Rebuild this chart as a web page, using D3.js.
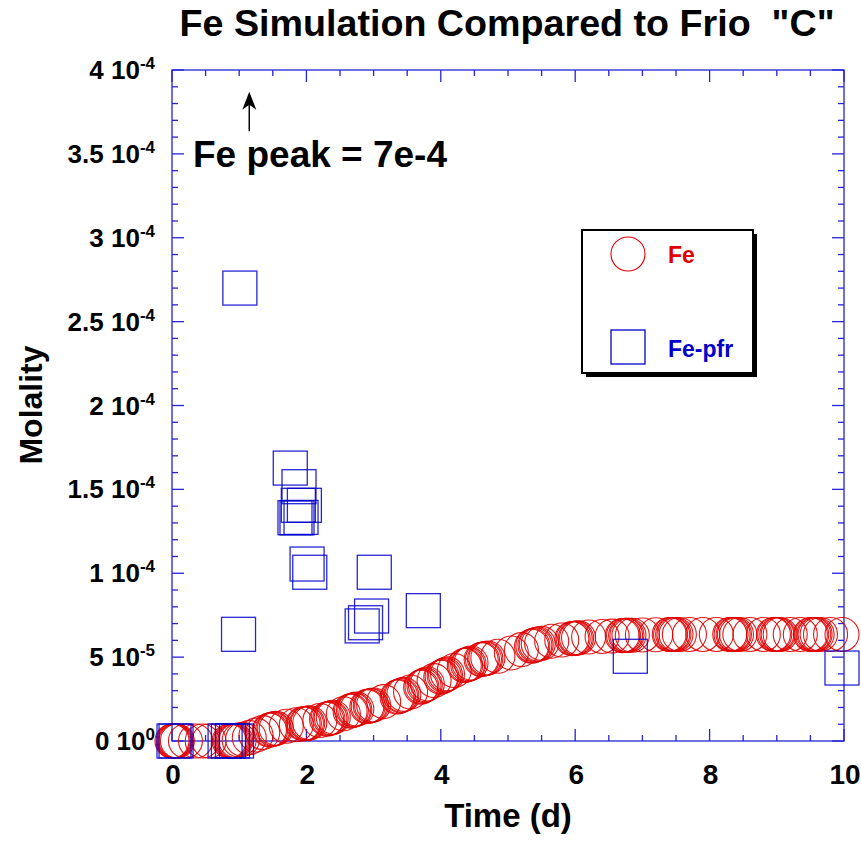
<!DOCTYPE html>
<html>
<head>
<meta charset="utf-8">
<script src="https://cdn.jsdelivr.net/npm/d3@7"></script>
<style>
  html, body { margin: 0; padding: 0; background: #fff; }
  text { font-family: "Liberation Sans", Arial, Helvetica, sans-serif; font-weight: bold; }
</style>
</head>
<body>
<svg id="chart" width="861" height="860"></svg>
<script>
// ---------- data ----------
const chartTitle = 'Fe Simulation Compared to Frio\u00a0\u00a0"C"';
const xTitle = "Time (d)";
const yTitle = "Molality";
const seriesNames = ["Fe", "Fe-pfr"];

// Simulated Fe (red circles): time (d)
const feTime = [
  0.0, 0.015, 0.03, 0.045, 0.06, 0.08,
  0.2, 0.35, 0.45, 0.55,
  0.85, 0.87, 0.89, 0.91, 0.93, 0.95, 1.0, 1.05,
  1.15, 1.25, 1.35,
  1.45, 1.47, 1.5, 1.52, 1.55,
  1.7, 1.85,
  1.95, 1.97, 2.0, 2.02, 2.05,
  2.2,
  2.3, 2.32, 2.35, 2.37, 2.4,
  2.55,
  2.65, 2.67, 2.7, 2.72, 2.75,
  2.9, 2.92, 2.95, 2.97, 3.0,
  3.15,
  3.35, 3.37, 3.4, 3.42, 3.45,
  3.55,
  3.7, 3.72, 3.75, 3.77, 3.8,
  3.9,
  4.0, 4.02, 4.05, 4.07, 4.1,
  4.2,
  4.35, 4.37, 4.4, 4.42, 4.45,
  4.6, 4.62, 4.65, 4.67, 4.7,
  4.85, 5.05, 5.2,
  5.35, 5.37, 5.4, 5.42, 5.45, 5.5,
  5.65, 5.8,
  5.95, 5.97, 6.0, 6.02, 6.05,
  6.2, 6.4, 6.55,
  6.7, 6.72, 6.75, 6.77, 6.8, 6.85,
  7.0, 7.2,
  7.4, 7.42, 7.45, 7.47, 7.5, 7.55,
  7.7, 7.9, 8.1,
  8.3, 8.32, 8.35, 8.37, 8.4, 8.45,
  8.6, 8.8,
  8.95, 8.97, 9.0, 9.02, 9.05,
  9.2, 9.35,
  9.5, 9.52, 9.55, 9.57, 9.6, 9.65,
  9.8, 9.97];
// Simulated Fe molality (units of 1e-5, scaled below)
const feMolality1e5 = [
  0, 0, 0, 0, 0, 0,
  0, 0, 0, 0,
  0, 0, 0, 0, 0, 0.02, 0.05, 0.1,
  0.2, 0.35, 0.5,
  0.65, 0.67, 0.7, 0.72, 0.75,
  0.88, 0.97,
  1.02, 1.03, 1.05, 1.06, 1.08,
  1.22,
  1.3, 1.32, 1.35, 1.38, 1.42,
  1.62,
  1.78, 1.8, 1.85, 1.87, 1.9,
  2.05, 2.07, 2.1, 2.12, 2.15,
  2.35,
  2.62, 2.65, 2.7, 2.73, 2.78,
  2.92,
  3.2, 3.24, 3.3, 3.35, 3.4,
  3.6,
  3.8, 3.84, 3.9, 3.95, 4.0,
  4.2,
  4.5, 4.52, 4.55, 4.6, 4.65,
  4.85, 4.87, 4.9, 4.92, 4.95,
  5.05, 5.25, 5.45,
  5.65, 5.68, 5.72, 5.75, 5.78, 5.82,
  5.95, 6.02,
  6.1, 6.11, 6.12, 6.13, 6.15,
  6.2, 6.23, 6.25,
  6.28, 6.29, 6.3, 6.3, 6.3, 6.3,
  6.32, 6.33,
  6.35, 6.35, 6.35, 6.35, 6.35, 6.35,
  6.35, 6.35, 6.35,
  6.35, 6.35, 6.35, 6.35, 6.35, 6.35,
  6.35, 6.35,
  6.35, 6.35, 6.35, 6.35, 6.35,
  6.35, 6.35,
  6.35, 6.35, 6.35, 6.35, 6.35, 6.35,
  6.35, 6.35];

// Measured Fe-pfr (blue squares)
const pfrTime = [0.03, 0.06, 0.79, 0.84, 0.90, 0.96, 0.99, 1.01, 1.76, 1.89, 1.88, 1.97,
  1.83, 1.86, 1.92, 2.01, 2.05, 3.01, 2.97, 2.88, 2.83, 3.74, 6.82, 9.97];
const pfrMolality = [0, 0, 0, 0, 0, 0, 6.36e-5, 2.70e-4, 1.627e-4, 1.516e-4, 1.405e-4, 1.405e-4,
  1.331e-4, 1.33e-4, 1.333e-4, 1.055e-4, 1.006e-4, 1.006e-4, 0.745e-4, 0.705e-4, 0.686e-4, 0.777e-4, 0.505e-4, 0.435e-4];

// Tick labels
const xTickValues = [0, 2, 4, 6, 8, 10];
const yTickValues = [0, 5e-5, 1e-4, 1.5e-4, 2e-4, 2.5e-4, 3e-4, 3.5e-4, 4e-4];
const yTickMantissa = ["0", "5", "1", "1.5", "2", "2.5", "3", "3.5", "4"];
const yTickExponent = ["0", "-5", "-4", "-4", "-4", "-4", "-4", "-4", "-4"];

const annotationText = "Fe peak = 7e-4";

// ---------- drawing ----------
const svg = d3.select("#chart");
const axisColor = "#2424d8";
const red = "#e00000";
const blue = "#0000cc";

const x = d3.scaleLinear().domain([0, 10]).range([172, 844]);
const y = d3.scaleLinear().domain([0, 4e-4]).range([741, 70]);

const xMinor = d3.range(0, 10.001, 0.5);
const yMinor = d3.range(0, 4.0001e-4, 1e-5);
const isMajorX = v => Math.abs(v / 2 - Math.round(v / 2)) < 1e-6;
const isMajorY = v => Math.abs(v / 5e-5 - Math.round(v / 5e-5)) < 1e-6;

const axes = svg.append("g").attr("stroke", axisColor).attr("stroke-width", 1.3).attr("fill", "none");
axes.append("rect")
  .attr("x", x(0)).attr("y", y(4e-4))
  .attr("width", x(10) - x(0)).attr("height", y(0) - y(4e-4));

xMinor.forEach(v => {
  const L = isMajorX(v) ? 12 : 6;
  axes.append("line").attr("x1", x(v)).attr("x2", x(v)).attr("y1", y(0)).attr("y2", y(0) - L);
  axes.append("line").attr("x1", x(v)).attr("x2", x(v)).attr("y1", y(4e-4)).attr("y2", y(4e-4) + L);
});
yMinor.forEach(v => {
  const L = isMajorY(v) ? 12 : 6;
  axes.append("line").attr("y1", y(v)).attr("y2", y(v)).attr("x1", x(0)).attr("x2", x(0) + L);
  axes.append("line").attr("y1", y(v)).attr("y2", y(v)).attr("x1", x(10)).attr("x2", x(10) - L);
});

// x tick labels
svg.append("g").selectAll("text").data(xTickValues).join("text")
  .attr("x", d => x(d) + 1).attr("y", 784)
  .attr("text-anchor", "middle").attr("font-size", 28).attr("fill", "#000")
  .text(d => d);

// y tick labels
const yl = svg.append("g").selectAll("text").data(yTickValues).join("text")
  .attr("x", 155).attr("y", d => y(d) + 9)
  .attr("text-anchor", "end").attr("font-size", 26).attr("fill", "#000");
yl.append("tspan").text((d, i) => yTickMantissa[i] + " 10");
yl.append("tspan").attr("dy", -10).attr("font-size", 17).text((d, i) => yTickExponent[i]);

// titles
svg.append("text").attr("x", 507).attr("y", 36).attr("text-anchor", "middle")
  .attr("font-size", 37).attr("textLength", 655).attr("lengthAdjust", "spacingAndGlyphs")
  .text(chartTitle);
svg.append("text").attr("x", 508).attr("y", 827).attr("text-anchor", "middle")
  .attr("font-size", 33).text(xTitle);
svg.append("text").attr("transform", "translate(42,405) rotate(-90)").attr("text-anchor", "middle")
  .attr("font-size", 32).text(yTitle);

// annotation
svg.append("text").attr("x", 193).attr("y", 167).attr("font-size", 37).text(annotationText);
const ax = x(1.15), yTip = y(3.87e-4), yTail = y(3.635e-4);
svg.append("line").attr("x1", ax).attr("x2", ax).attr("y1", yTail).attr("y2", yTip + 6)
  .attr("stroke", "#000").attr("stroke-width", 1.5);
svg.append("path")
  .attr("d", `M${ax},${yTip} L${ax + 7},${yTip + 18} L${ax},${yTip + 13} L${ax - 7},${yTip + 18} Z`)
  .attr("fill", "#000");

// Fe circles
svg.append("g").selectAll("circle").data(feTime).join("circle")
  .attr("cx", d => x(d)).attr("cy", (d, i) => y(feMolality1e5[i] * 1e-5))
  .attr("r", 17).attr("fill", "none").attr("stroke", red).attr("stroke-width", 1.1)
  .attr("stroke-opacity", 0.9);

// Fe-pfr squares
const S = 34;
svg.append("g").selectAll("rect").data(pfrTime).join("rect")
  .attr("x", d => x(d) - S / 2).attr("y", (d, i) => y(pfrMolality[i]) - S / 2)
  .attr("width", S).attr("height", S)
  .attr("fill", "none").attr("stroke", blue).attr("stroke-width", 1.3).attr("stroke-opacity", 0.85);

// legend
const lg = svg.append("g");
lg.append("rect").attr("x", 586).attr("y", 234).attr("width", 171).attr("height", 143).attr("fill", "#000");
lg.append("rect").attr("x", 582).attr("y", 230).attr("width", 171).attr("height", 143)
  .attr("fill", "#fff").attr("stroke", "#000").attr("stroke-width", 2);
lg.append("circle").attr("cx", 628).attr("cy", 254).attr("r", 17)
  .attr("fill", "none").attr("stroke", red).attr("stroke-width", 1.1);
lg.append("rect").attr("x", 628 - S / 2).attr("y", 347 - S / 2).attr("width", S).attr("height", S)
  .attr("fill", "none").attr("stroke", blue).attr("stroke-width", 1.3);
lg.append("text").attr("x", 668).attr("y", 263).attr("font-size", 23).attr("fill", red).text(seriesNames[0]);
lg.append("text").attr("x", 668).attr("y", 357).attr("font-size", 23).attr("fill", blue).text(seriesNames[1]);
</script>
</body>
</html>
